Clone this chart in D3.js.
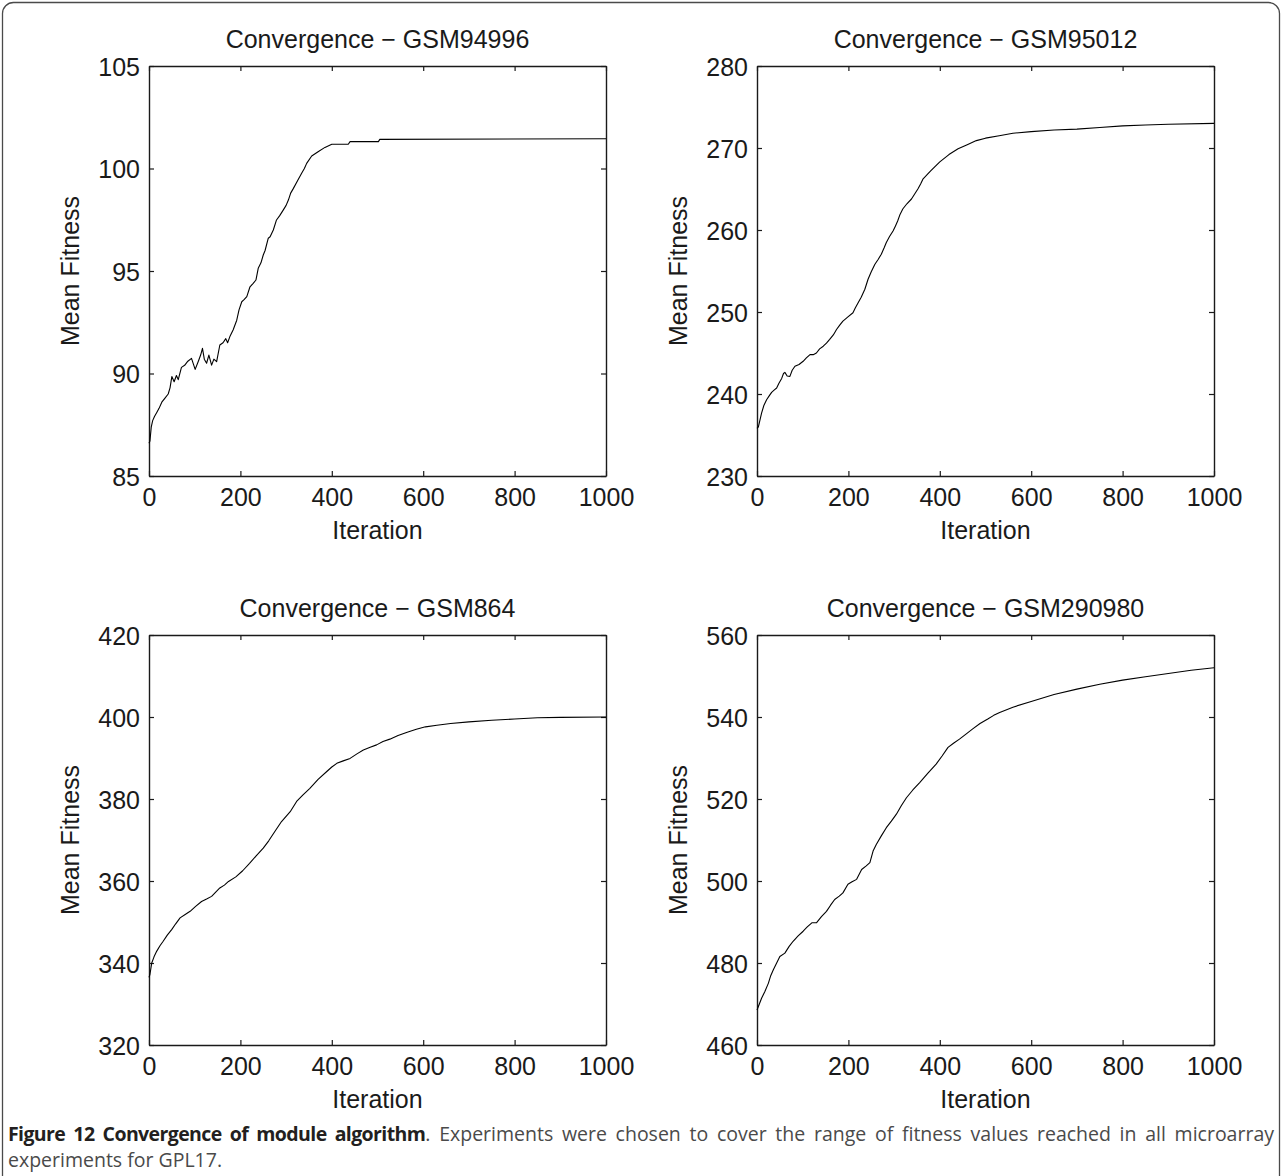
<!DOCTYPE html>
<html><head><meta charset="utf-8">
<script src="https://cdn.jsdelivr.net/npm/d3@7/dist/d3.min.js"></script>
<style>body{margin:0;background:#fff}svg{display:block}</style>
</head><body>
<svg id="fig" width="1282" height="1176"></svg>
<script>
// Convergence of the module algorithm: mean fitness per iteration, four experiments.
const titles = ["Convergence \u2212 GSM94996", "Convergence \u2212 GSM95012",
                "Convergence \u2212 GSM864", "Convergence \u2212 GSM290980"];
const xTicks = [0, 200, 400, 600, 800, 1000];
const yDomains = [[85, 105], [230, 280], [320, 420], [460, 560]];
const yTicks = [[85, 90, 95, 100, 105], [230, 240, 250, 260, 270, 280],
                [320, 340, 360, 380, 400, 420], [460, 480, 500, 520, 540, 560]];

const iterGSM94996 = [0,2,5,8,12,17,22,28,35,42,46,50,55,60,64,71,78,85,93,101,108,113,117,121,126,131,137,142,148,155,162,168,172,177,184,192,197,203,208,214,221,228,234,239,245,250,254,261,265,272,279,286,294,300,305,310,316,325,334,340,345,356,370,385,400,436,440,502,505,1000];
const fitGSM94996 = [86.6,86.7,87.4,87.7,87.9,88.1,88.3,88.6,88.8,89.0,89.3,89.85,89.6,89.9,89.7,90.3,90.4,90.6,90.74,90.2,90.6,90.9,91.23,90.7,90.5,90.9,90.41,90.7,90.58,91.39,91.5,91.7,91.5,91.8,92.12,92.6,93.1,93.5,93.6,93.75,94.23,94.4,94.56,95.13,95.4,95.78,96.0,96.6,96.67,97.0,97.49,97.7,97.98,98.2,98.46,98.8,99.03,99.4,99.77,100.0,100.25,100.61,100.82,101.03,101.18,101.18,101.31,101.31,101.42,101.45];

const iterGSM95012 = [0,3,10,15,21,27,32,38,43,48,54,58,61,66,72,77,83,92,101,108,116,123,130,137,145,152,159,167,174,181,188,199,210,215,221,228,236,243,250,258,265,272,278,283,290,298,303,308,313,319,328,338,345,352,358,363,380,400,420,440,460,480,500,530,560,600,650,700,750,800,850,900,1000];
const fitGSM95012 = [235.8,236.0,237.67,238.6,239.3,239.8,240.2,240.5,240.73,241.3,241.9,242.5,242.64,242.2,242.15,242.9,243.38,243.6,243.99,244.4,244.8,244.8,245.0,245.5,245.83,246.2,246.65,247.2,247.87,248.4,248.89,249.4,249.91,250.5,251.1,251.8,252.77,253.99,254.9,255.83,256.4,257.05,257.8,258.48,259.2,259.9,260.5,261.13,261.9,262.56,263.2,263.78,264.4,265.0,265.6,266.2,267.2,268.3,269.2,269.9,270.4,270.9,271.2,271.5,271.8,272.0,272.2,272.3,272.5,272.7,272.8,272.9,273.0];

const iterGSM864 = [0,2,6,11,17,24,31,40,50,58,68,80,90,102,115,126,137,146,155,165,174,190,205,220,235,250,262,275,290,309,323,337,352,370,389,400,411,425,440,455,469,484,498,512,527,545,565,585,605,630,660,700,750,800,850,900,1000];
const fitGSM864 = [336.5,337.2,340.0,341.5,342.9,344.2,345.3,346.8,348.2,349.5,351.0,351.9,352.6,353.8,355.0,355.6,356.25,357.3,358.3,359.0,359.9,361.0,362.5,364.3,366.2,368.0,369.8,372.0,374.5,376.9,379.4,381.0,382.6,384.8,386.7,387.8,388.7,389.3,389.9,391.0,391.95,392.6,393.2,394.0,394.6,395.5,396.3,397.0,397.6,398.0,398.4,398.8,399.2,399.5,399.8,399.9,400.0];

const iterGSM290980 = [0,3,10,17,25,30,36,43,50,61,70,79,90,101,110,120,130,141,152,161,170,180,188,199,208,218,229,239,247,254,261,272,283,294,305,316,327,341,356,374,392,405,418,430,443,458,472,488,505,518,531,560,600,650,700,750,800,850,900,950,1000];
const fitGSM290980 = [468.5,469.4,471.4,473.0,475.1,476.9,478.4,480.0,481.6,482.4,484.0,485.3,486.6,487.75,488.8,489.8,489.8,491.3,492.6,494.1,495.5,496.3,497.1,499.2,499.8,500.4,502.8,503.7,504.5,507.3,508.9,511.0,513.0,514.6,516.3,518.4,520.3,522.2,524.0,526.3,528.5,530.5,532.6,533.6,534.6,535.9,537.1,538.4,539.5,540.4,541.1,542.4,543.8,545.5,546.8,548.0,549.0,549.8,550.6,551.4,552.0];

const iterations = [iterGSM94996, iterGSM95012, iterGSM864, iterGSM290980];
const fitness = [fitGSM94996, fitGSM95012, fitGSM864, fitGSM290980];

const captionBold = "Figure 12 Convergence of module algorithm";
const captionRest = ". Experiments were chosen to cover the range of fitness values reached in all microarray";
const captionLine2 = "experiments for GPL17.";

const svg = d3.select("#fig");
const ink = "#1a1a1a";
const FONT = "'Liberation Sans', Arial, sans-serif";

// outer figure frame
svg.append("rect")
  .attr("x", 2.5).attr("y", 2.5).attr("width", 1277).attr("height", 1210)
  .attr("rx", 11).attr("fill", "none").attr("stroke", "#4a4a4a").attr("stroke-width", 1.3);

const lefts = [149, 757], tops = [66, 635];
const W = 457, H = 410, TICK = 5;

titles.forEach((title, k) => {
  const x0 = lefts[k % 2], y0 = tops[Math.floor(k / 2)];
  const g = svg.append("g").attr("transform", `translate(${x0},${y0})`);
  const x = d3.scaleLinear().domain([0, 1000]).range([0, W]);
  const y = d3.scaleLinear().domain(yDomains[k]).range([H, 0]);

  // box axes with inward ticks on all four sides
  const bottom = g.append("g").attr("transform", `translate(0,${H})`)
    .call(d3.axisBottom(x).tickValues(xTicks).tickFormat(d3.format("d"))
      .tickSizeInner(-TICK).tickSizeOuter(0).tickPadding(12));
  const top = g.append("g")
    .call(d3.axisTop(x).tickValues(xTicks).tickSizeInner(-TICK).tickSizeOuter(0).tickFormat(""));
  const left = g.append("g")
    .call(d3.axisLeft(y).tickValues(yTicks[k]).tickFormat(d3.format("d"))
      .tickSizeInner(-TICK).tickSizeOuter(0).tickPadding(9));
  const right = g.append("g").attr("transform", `translate(${W},0)`)
    .call(d3.axisRight(y).tickValues(yTicks[k]).tickSizeInner(-TICK).tickSizeOuter(0).tickFormat(""));
  [bottom, top, left, right].forEach(a => {
    a.selectAll("path.domain").attr("stroke", ink).attr("stroke-width", 1.4);
    a.selectAll(".tick line").attr("stroke", ink).attr("stroke-width", 1.2);
    a.selectAll(".tick text").attr("fill", ink).style("font-family", FONT).style("font-size", "25px");
  });
  bottom.selectAll(".tick text").attr("dy", "0.71em");
  left.selectAll(".tick text").attr("dy", "0.36em");

  // fitness curve
  const pts = iterations[k].map((it, i) => [it, fitness[k][i]]);
  g.append("path").datum(pts)
    .attr("fill", "none").attr("stroke", "#000").attr("stroke-width", 1.1)
    .attr("stroke-linejoin", "round")
    .attr("d", d3.line().x(d => x(d[0])).y(d => y(d[1])));

  g.append("text").attr("x", W / 2).attr("y", -18)
    .attr("text-anchor", "middle").attr("fill", ink)
    .style("font-family", FONT).style("font-size", "25px").text(title);
  g.append("text").attr("x", W / 2).attr("y", H + 63)
    .attr("text-anchor", "middle").attr("fill", ink)
    .style("font-family", FONT).style("font-size", "25px").text("Iteration");
  g.append("text").attr("transform", `translate(-70,${H / 2}) rotate(-90)`)
    .attr("text-anchor", "middle").attr("fill", ink)
    .style("font-family", FONT).style("font-size", "25px").text("Mean Fitness");
});

// caption, first line justified across the frame
const CAP = "'Open Sans', 'Noto Sans', sans-serif";
const CAP_SIZE = "19.5px";
const line1 = svg.append("text").attr("x", 8).attr("y", 1141)
  .style("font-family", CAP).style("font-size", CAP_SIZE);
line1.append("tspan").attr("font-weight", "bold").attr("fill", "#231f20")
  .attr("letter-spacing", -0.6).text(captionBold);
line1.append("tspan").attr("fill", "#4a4a4a").text(captionRest);
const natural = line1.node().getComputedTextLength();
const gaps = (captionBold + captionRest).split(" ").length - 1;
const spare = 1274 - 8 - natural;
if (spare >= 0) line1.attr("word-spacing", spare / gaps);
else line1.attr("textLength", 1266).attr("lengthAdjust", "spacingAndGlyphs");

svg.append("text").attr("x", 8).attr("y", 1167)
  .style("font-family", CAP).style("font-size", CAP_SIZE).attr("fill", "#4a4a4a")
  .text(captionLine2);
</script>
</body></html>
